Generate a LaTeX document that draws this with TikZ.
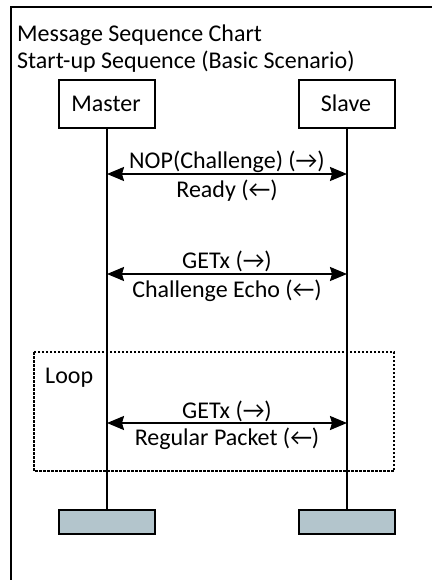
\documentclass[tikz,border=0pt]{standalone}
\usepackage{fontspec}
\setmainfont{Carlito}
\usetikzlibrary{arrows.meta}
\definecolor{barfill}{RGB}{179,197,204}
\tikzset{
  x=1pt, y=-1pt,
  every node/.style={font=\fontsize{24}{28}\selectfont, inner sep=0pt},
  actor/.style={draw, line width=2pt, minimum width=96pt, minimum height=48pt, anchor=north west},
  endbar/.style={draw, line width=2pt, fill=barfill, minimum width=96pt, minimum height=24pt, anchor=north west},
  lifeline/.style={line width=1.8pt},
  msg/.style={line width=2pt, {Stealth[length=17pt,width=14pt,inset=2pt]}-{Stealth[length=17pt,width=14pt,inset=2pt]}},
  loopbox/.style={draw, line width=1.5pt, dash pattern=on 2.5pt off 1.5pt},
  lbl/.style={anchor=base}
}
\begin{document}
\begin{tikzpicture}
\useasboundingbox (0,0) rectangle (432,580);
% frame
\draw[line width=2pt] (11,580) -- (11,7) -- (432,7);
% title
\node[anchor=base west] (t1) at (17,42) {Message Sequence Chart};
\node[anchor=base west] (t2) at (17,69) {Start-up Sequence (Basic Scenario)};
% actors
\node[actor] (master) at (58,79) {};
\node[anchor=base] (mastertxt) at (106,112) {Master};
\node[actor] (slave) at (298,79) {};
\node[anchor=base] (slavetxt) at (346,112) {Slave};
% loop frame
\draw[loopbox] (34,352) rectangle (394,471);
\node[anchor=base west] (loop) at (45,383) {Loop};
% end bars
\node[endbar] (mend) at (58,509) {};
\node[endbar] (send) at (298,509) {};
% lifelines
\draw[lifeline] (master.south) -- (mend.north);
\draw[lifeline] (slave.south) -- (send.north);
% message coordinates
\coordinate (m1) at (master.south |- 0,174);
\coordinate (s1) at (slave.south |- 0,174);
\coordinate (m2) at (master.south |- 0,274);
\coordinate (s2) at (slave.south |- 0,274);
\coordinate (m3) at (master.south |- 0,423);
\coordinate (s3) at (slave.south |- 0,423);
\draw[msg] (m1) -- (s1);
\draw[msg] (m2) -- (s2);
\draw[msg] (m3) -- (s3);
% labels
\node[lbl] (l1a) at (227,168) {NOP(Challenge) (→)};
\node[lbl] (l1b) at (227,197) {Ready (←)};
\node[lbl] (l2a) at (227,268) {GETx (→)};
\node[lbl] (l2b) at (227,297) {Challenge Echo (←)};
\node[lbl] (l3a) at (227,418) {GETx (→)};
\node[lbl] (l3b) at (227,445) {Regular Packet (←)};
\end{tikzpicture}
\end{document}
